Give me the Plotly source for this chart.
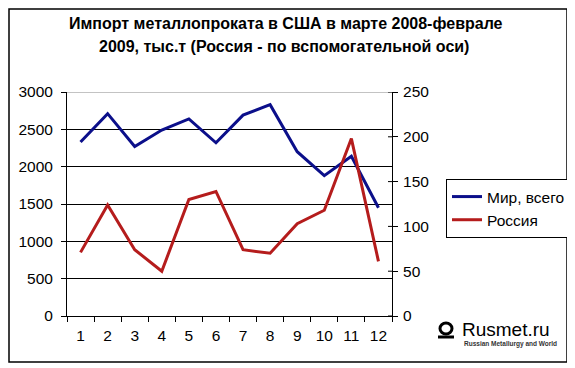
import plotly.graph_objects as go

months = ["1", "2", "3", "4", "5", "6", "7", "8", "9", "10", "11", "12"]
world_total = [2330, 2710, 2270, 2490, 2640, 2320, 2690, 2830, 2200, 1880, 2140, 1450]
russia = [71, 124, 74, 50, 130, 139, 74, 70, 103, 118, 198, 61]
left_ticks = [0, 500, 1000, 1500, 2000, 2500, 3000]
right_ticks = [0, 50, 100, 150, 200, 250]

FONT = "Liberation Sans, Arial, sans-serif"
OFF = 8  # page body margin of the html page
W, H = 575 - OFF, 368 - OFF
# plot area in picture pixels
L, R, T, B = 67, 392, 92, 316
PW, PH = R - L, B - T


def px(x):
    return (x - L) / PW


def py(y):
    return (B - y) / PH


fig = go.Figure()
fig.add_trace(go.Scatter(x=months, y=world_total, name="Мир, всего", mode="lines",
                         line=dict(color="#0B0F8A", width=3), yaxis="y"))
fig.add_trace(go.Scatter(x=months, y=russia, name="Россия", mode="lines",
                         line=dict(color="#B51C1C", width=3), yaxis="y2"))

shapes = []
# outer border of the chart
shapes.append(dict(type="rect", xref="paper", yref="paper", x0=px(OFF + 1), x1=px(567), y0=py(362), y1=py(OFF + 1),
                   line=dict(color="black", width=1.5)))
# grey top gridline
shapes.append(dict(type="line", xref="paper", yref="y", x0=0, x1=1, y0=3000, y1=3000,
                   line=dict(color="#888888", width=1)))
# inner halves of the crossing right-axis ticks
for v in right_ticks:
    shapes.append(dict(type="line", xref="paper", yref="y2", x0=1 - 4 / PW, x1=1, y0=v, y1=v,
                       line=dict(color="black", width=1)))
# logo icon
shapes.append(dict(type="circle", xref="paper", yref="paper", x0=px(440), x1=px(452), y0=py(334), y1=py(323),
                   line=dict(color="black", width=3)))
shapes.append(dict(type="rect", xref="paper", yref="paper", x0=px(438), x1=px(454), y0=py(338.5), y1=py(335.5),
                   line=dict(width=0), fillcolor="black"))

annotations = [
    dict(text="<b>Импорт металлопроката в США в марте 2008-феврале</b>", xref="paper", yref="paper",
         x=px(286), y=py(23), xanchor="center", yanchor="middle", showarrow=False,
         font=dict(family=FONT, size=16, color="black")),
    dict(text="<b>2009, тыс.т (Россия - по вспомогательной оси)</b>", xref="paper", yref="paper",
         x=px(284), y=py(46), xanchor="center", yanchor="middle", showarrow=False,
         font=dict(family=FONT, size=16, color="black")),
    dict(text="Rusmet.ru", xref="paper", yref="paper", x=px(460), y=py(329), xanchor="left",
         yanchor="middle", showarrow=False, font=dict(family=FONT, size=19, color="black")),
    dict(text="<b>Russian Metallurgy and World</b>", xref="paper", yref="paper", x=px(462), y=py(344),
         xanchor="left", yanchor="middle", showarrow=False, font=dict(family=FONT, size=6.5, color="#333333")),
]

fig.update_layout(
    width=W, height=H,
    margin=dict(l=L - OFF, r=W - (R - OFF), t=T - OFF, b=H - (B - OFF), pad=0, autoexpand=False),
    paper_bgcolor="white", plot_bgcolor="white",
    font=dict(family=FONT, size=15, color="black"),
    showlegend=True,
    legend=dict(x=px(446), y=py(179), xanchor="left", yanchor="top",
                bordercolor="black", borderwidth=1, bgcolor="white",
                font=dict(family=FONT, size=15.5, color="black"),
                tracegroupgap=0, itemwidth=30),
    xaxis=dict(type="category", categoryorder="array", categoryarray=months, range=[-0.5, 11.5],
               showline=True, linecolor="black", linewidth=1, showgrid=False,
               ticks="outside", ticklen=5, tickcolor="black", tickson="boundaries",
               ticklabelstandoff=5, tickfont=dict(family=FONT, size=15.5), zeroline=False),
    yaxis=dict(range=[0, 3000], tickvals=left_ticks, showline=True, linecolor="black", linewidth=1,
               showgrid=True, gridcolor="black", gridwidth=1, zeroline=False, ticklabelstandoff=5,
               ticks="outside", ticklen=5, tickcolor="black", tickfont=dict(family=FONT, size=15.5)),
    yaxis2=dict(range=[0, 250], tickvals=right_ticks, overlaying="y", side="right",
                showline=True, linecolor="black", linewidth=1, showgrid=False, zeroline=False,
                ticklabelstandoff=2,
                ticks="outside", ticklen=5, tickcolor="black", tickfont=dict(family=FONT, size=15.5)),
    shapes=shapes,
    annotations=annotations,
)

fig.write_html("out.html")
